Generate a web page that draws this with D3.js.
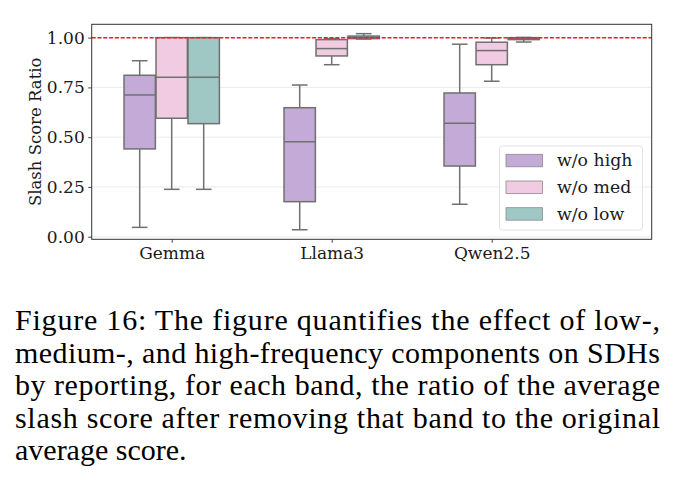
<!DOCTYPE html>
<html>
<head>
	<meta charset="UTF-8">
	<title>Slash Score Ratio</title>
	<script src="https://d3js.org/d3.v7.min.js"></script>
	<style>
		body{ margin:0; background:#fff; }
	</style>
</head>
<body>
	<div id="chart"></div>
	<script>
		// data: [lowWhisker, q1, median, q3, highWhisker]
		const models = ["Gemma", "Llama3", "Qwen2.5"];
		const bands = ["w/o high", "w/o med", "w/o low"];
		const bandColors = ["#c3aad7", "#f0cbe1", "#9fc8c5"];
		const woHigh = [[0.047, 0.441, 0.712, 0.811, 0.884], [0.035, 0.176, 0.477, 0.648, 0.762], [0.163, 0.355, 0.570, 0.722, 0.967]];
		const woMed = [[0.238, 0.595, 0.801, 1.000, 1.000], [0.864, 0.908, 0.945, 0.990, 0.995], [0.781, 0.864, 0.935, 0.977, 0.998]];
		const woLow = [[0.238, 0.568, 0.801, 1.000, 1.000], [0.993, 0.995, 1.001, 1.008, 1.020], [0.978, 0.990, 0.996, 1.000, 1.001]];
		const yTicks = [0, 0.25, 0.5, 0.75, 1.0];
		const captionLines = [
			"Figure 16: The figure quantifies the effect of low-,",
			"medium-, and high-frequency components on SDHs",
			"by reporting, for each band, the ratio of the average",
			"slash score after removing that band to the original",
			"average score."
		];

		const width = 677, height = 502;
		const mLeft = 91.7, mRight = 651.7, mTop = 24.3, mBottom = 239.3;
		const series = [woHigh, woMed, woLow];
		const chartFont = "'DejaVu Serif', serif";

		const svg = d3.select('#chart').append('svg')
			.attr('width', width).attr('height', height);

		const x = d3.scaleLinear().domain([-0.5, 3.0]).range([mLeft, mRight]);
		const y = d3.scaleLinear().domain([-0.013, 1.067]).range([mBottom, mTop]);

		// grid
		svg.append('g').selectAll('line').data(yTicks).enter().append('line')
			.attr('x1', mLeft).attr('x2', mRight)
			.attr('y1', d => y(d)).attr('y2', d => y(d))
			.attr('stroke', '#e6e6e6').attr('stroke-width', 0.8);

		// boxes
		const offsets = [-0.2, 0, 0.2];
		const boxW = 0.196;
		const edge = '#707070';
		const g = svg.append('g');
		series.forEach((band, bi) => {
			band.forEach((s, mi) => {
				const cx = mi + offsets[bi];
				const [lo, q1, med, q3, hi] = s;
				g.append('line').attr('x1', x(cx)).attr('x2', x(cx))
					.attr('y1', y(hi)).attr('y2', y(q3)).attr('stroke', edge).attr('stroke-width', 1.5);
				g.append('line').attr('x1', x(cx)).attr('x2', x(cx))
					.attr('y1', y(q1)).attr('y2', y(lo)).attr('stroke', edge).attr('stroke-width', 1.5);
				[lo, hi].forEach(v => {
					g.append('line').attr('x1', x(cx - boxW / 4)).attr('x2', x(cx + boxW / 4))
						.attr('y1', y(v)).attr('y2', y(v)).attr('stroke', edge).attr('stroke-width', 1.5);
				});
				g.append('rect').attr('x', x(cx - boxW / 2)).attr('width', x(boxW) - x(0))
					.attr('y', y(q3)).attr('height', Math.max(y(q1) - y(q3), 0.5))
					.attr('fill', bandColors[bi]).attr('stroke', edge).attr('stroke-width', 1.5);
				g.append('line').attr('x1', x(cx - boxW / 2)).attr('x2', x(cx + boxW / 2))
					.attr('y1', y(med)).attr('y2', y(med)).attr('stroke', edge).attr('stroke-width', 1.5);
			});
		});

		// reference line at 1
		svg.append('line').attr('x1', mLeft).attr('x2', mRight)
			.attr('y1', y(1)).attr('y2', y(1))
			.attr('stroke', '#ff1a1a').attr('stroke-width', 1.5)
			.attr('stroke-dasharray', '4,1.8');

		// axes
		const yAxis = d3.axisLeft(y).tickValues(yTicks).tickFormat(d3.format('.2f')).tickSize(3.5).tickPadding(3.5);
		const xAxis = d3.axisBottom(x).tickValues([0, 1, 2]).tickFormat(i => models[i]).tickSize(3.5).tickPadding(4);
		const ya = svg.append('g').attr('transform', `translate(${mLeft},0)`).call(yAxis);
		const xa = svg.append('g').attr('transform', `translate(0,${mBottom})`).call(xAxis);
		[ya, xa].forEach(a => {
			a.attr('font-family', null).attr('font-size', null);
			a.select('.domain').remove();
			a.selectAll('.tick line').attr('stroke', '#333').attr('stroke-width', 0.9);
			a.selectAll('.tick text').attr('font-size', 17).style('font-family', chartFont).attr('fill', '#1a1a1a');
		});
		svg.append('rect').attr('x', mLeft).attr('y', mTop)
			.attr('width', mRight - mLeft).attr('height', mBottom - mTop)
			.attr('fill', 'none').attr('stroke', '#333').attr('stroke-width', 1);

		svg.append('text').attr('transform', `translate(41,${(mTop + mBottom) / 2}) rotate(-90)`)
			.attr('text-anchor', 'middle').attr('font-size', 16.5).attr('fill', '#1a1a1a')
			.style('font-family', chartFont).text('Slash Score Ratio');

		// legend
		const lg = svg.append('g');
		lg.append('rect').attr('x', 499.5).attr('y', 146).attr('width', 143).attr('height', 84)
			.attr('rx', 3).attr('fill', 'rgba(255,255,255,0.8)').attr('stroke', '#dcdcdc').attr('stroke-width', 0.8);
		bands.forEach((b, i) => {
			const yy = 154.3 + i * 26.7;
			lg.append('rect').attr('x', 506).attr('y', yy).attr('width', 36.5).attr('height', 12.5)
				.attr('fill', bandColors[i]).attr('stroke', '#8a8a8a').attr('stroke-width', 0.8);
			lg.append('text').attr('x', 557).attr('y', yy + 12).attr('font-size', 17.3)
				.attr('fill', '#1a1a1a').style('font-family', chartFont).text(b);
		});

		// caption
		const cap = svg.append('g');
		captionLines.forEach((t, i) => {
			const tx = cap.append('text').attr('x', 15).attr('y', 330 + i * 32.5)
				.attr('font-size', 30).attr('fill', '#000')
				.attr('font-family', 'Liberation Serif')
				.style('font-family', "'Liberation Serif'").text(t);
			if (i < captionLines.length - 1) {
				tx.attr('textLength', 645).attr('lengthAdjust', 'spacing');
			}
		});
	</script>
</body>
</html>
